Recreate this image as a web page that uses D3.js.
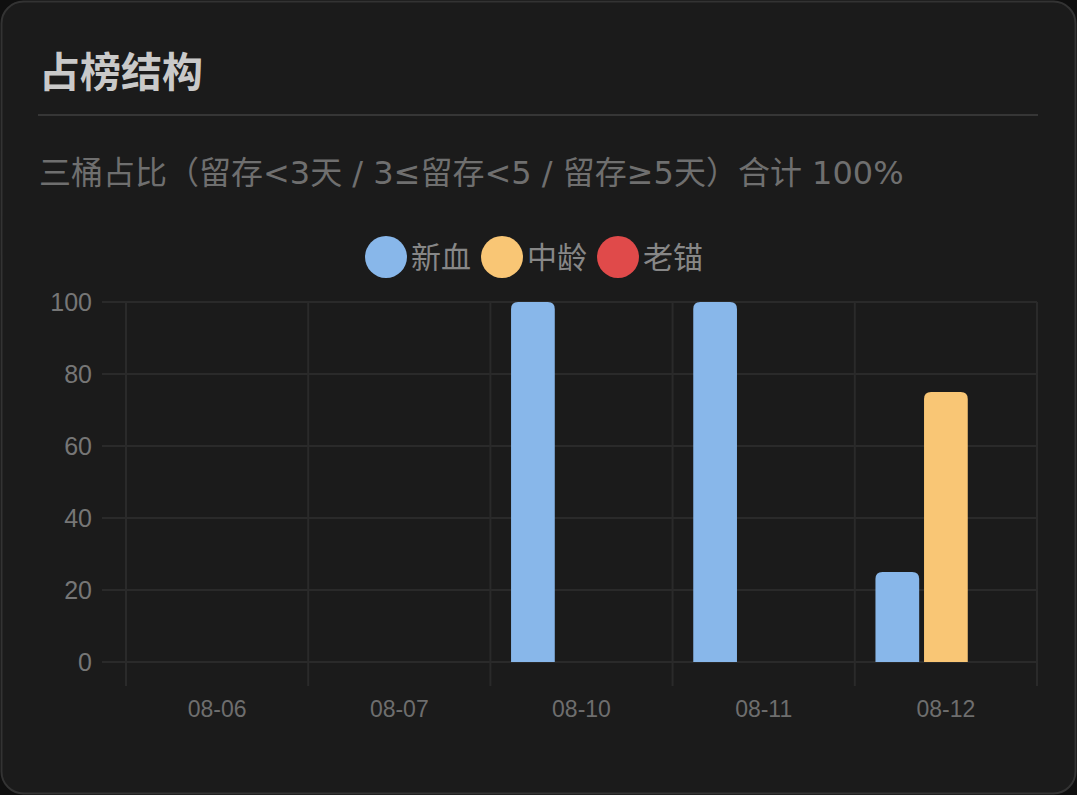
<!DOCTYPE html>
<html>
<head>
<meta charset="utf-8">
<script src="https://cdn.jsdelivr.net/npm/d3@7"></script>
<style>
  html, body { margin: 0; padding: 0; background: #0f0f0f; }
  svg { display: block; }
</style>
</head>
<body>
<svg id="chart" width="1077" height="795"></svg>
<script>
// data
const days = ["08-06", "08-07", "08-10", "08-11", "08-12"];
const seriesNames = ["新血", "中龄", "老锚"];
const seriesColors = ["#88b7ea", "#f9c675", "#e04a4a"];
const newBlood = [0, 0, 100, 100, 25];
const middleAge = [0, 0, 0, 0, 75];
const oldAnchor = [0, 0, 0, 0, 0];
const yTicks = [0, 20, 40, 60, 80, 100];

const values = [newBlood, middleAge, oldAnchor];

const svg = d3.select("#chart");
const W = 1077, H = 795;
const cjk = "'Noto Sans', 'Noto Sans CJK SC', sans-serif";

// card
svg.append("rect")
  .attr("x", 1.5).attr("y", 1.5)
  .attr("width", W - 3).attr("height", H - 3)
  .attr("rx", 22)
  .attr("fill", "#1b1b1b")
  .attr("stroke", "#333")
  .attr("stroke-width", 2);

svg.append("text")
  .attr("x", 39).attr("y", 87)
  .attr("font-family", "'Noto Sans CJK SC', sans-serif")
  .attr("font-weight", "bold")
  .attr("font-size", 41)
  .attr("fill", "#c9c9c9")
  .text("占榜结构");

svg.append("line")
  .attr("x1", 38).attr("x2", 1038)
  .attr("y1", 115).attr("y2", 115)
  .attr("stroke", "#363636").attr("stroke-width", 2);

svg.append("text")
  .attr("x", 39).attr("y", 184)
  .attr("font-family", "'DejaVu Sans', 'Noto Sans CJK SC', sans-serif")
  .attr("font-size", 32)
  .attr("fill", "#6f6f6f")
  .text("三桶占比（留存<3天 / 3≤留存<5 / 留存≥5天）合计 100%");

//--------------------------------------------------
// scales
//--------------------------------------------------
const plot = {left: 126, right: 1037, top: 302, bottom: 662};

const x = d3.scaleBand().domain(days).range([plot.left, plot.right]).paddingInner(0).paddingOuter(0);
const xInner = d3.scaleBand().domain(d3.range(seriesNames.length))
  .range([x.bandwidth() * 0.1, x.bandwidth() * 0.9]);
const barW = xInner.bandwidth() * 0.9;
const y = d3.scaleLinear().domain([0, 100]).range([plot.bottom, plot.top]);

const grid = svg.append("g");
const gridColor = "#2a2a2a";

// horizontal grid + tick marks
grid.selectAll(".hg").data(yTicks).enter().append("line")
  .attr("x1", plot.left - 24).attr("x2", plot.right)
  .attr("y1", d => y(d)).attr("y2", d => y(d))
  .attr("stroke", gridColor).attr("stroke-width", 2);

// vertical grid lines
const xEdges = days.map(d => x(d)).concat([plot.right]);
grid.selectAll(".vg").data(xEdges).enter().append("line")
  .attr("x1", d => d).attr("x2", d => d)
  .attr("y1", plot.top).attr("y2", plot.bottom + 24)
  .attr("stroke", gridColor).attr("stroke-width", 2);

// y labels
svg.append("g").selectAll("text").data(yTicks).enter().append("text")
  .attr("x", 92).attr("y", d => y(d))
  .attr("dy", "0.35em")
  .attr("text-anchor", "end")
  .attr("font-family", "'Liberation Sans', Arial, sans-serif")
  .attr("font-size", 25)
  .attr("fill", "#767676")
  .text(d => d);

// x labels
svg.append("g").selectAll("text").data(days).enter().append("text")
  .attr("x", d => x(d) + x.bandwidth() / 2).attr("y", 717)
  .attr("text-anchor", "middle")
  .attr("font-family", "'Liberation Sans', Arial, sans-serif")
  .attr("font-size", 23)
  .attr("fill", "#6e6e6e")
  .text(d => d);

//--------------------------------------------------
// bars (rounded tops)
//--------------------------------------------------
function barPath(x0, w, yTop, yBot) {
  const r = Math.min(7, w / 2, (yBot - yTop));
  return `M${x0},${yBot}V${yTop + r}Q${x0},${yTop} ${x0 + r},${yTop}` +
    `H${x0 + w - r}Q${x0 + w},${yTop} ${x0 + w},${yTop + r}V${yBot}Z`;
}

const bars = [];
days.forEach((d, i) => {
  values.forEach((s, k) => {
    if (s[i] > 0) bars.push({day: d, k: k, v: s[i]});
  });
});

svg.append("g").selectAll("path").data(bars).enter().append("path")
  .attr("d", b => {
    const cx = x(b.day) + xInner(b.k) + xInner.bandwidth() / 2;
    return barPath(cx - barW / 2, barW, y(b.v), y(0));
  })
  .attr("fill", b => seriesColors[b.k]);

//--------------------------------------------------
// legend
//--------------------------------------------------
const legend = svg.append("g");
const lFont = 30, rad = 21;
const tmp = legend.append("text").attr("font-family", cjk).attr("font-size", lFont);
const widths = seriesNames.map(n => { tmp.text(n); return tmp.node().getComputedTextLength(); });
tmp.remove();
const itemW = widths.map(w => rad * 2 + 4 + w);
const totalW = d3.sum(itemW) + 10 * (seriesNames.length - 1);
let lx = 534 - totalW / 2;
seriesNames.forEach((n, i) => {
  legend.append("circle")
    .attr("cx", lx + rad).attr("cy", 257).attr("r", rad)
    .attr("fill", seriesColors[i]);
  legend.append("text")
    .attr("x", lx + rad * 2 + 4).attr("y", 257)
    .attr("dy", "0.36em")
    .attr("font-family", cjk)
    .attr("font-size", lFont)
    .attr("fill", "#878787")
    .text(n);
  lx += itemW[i] + 10;
});
</script>
</body>
</html>
